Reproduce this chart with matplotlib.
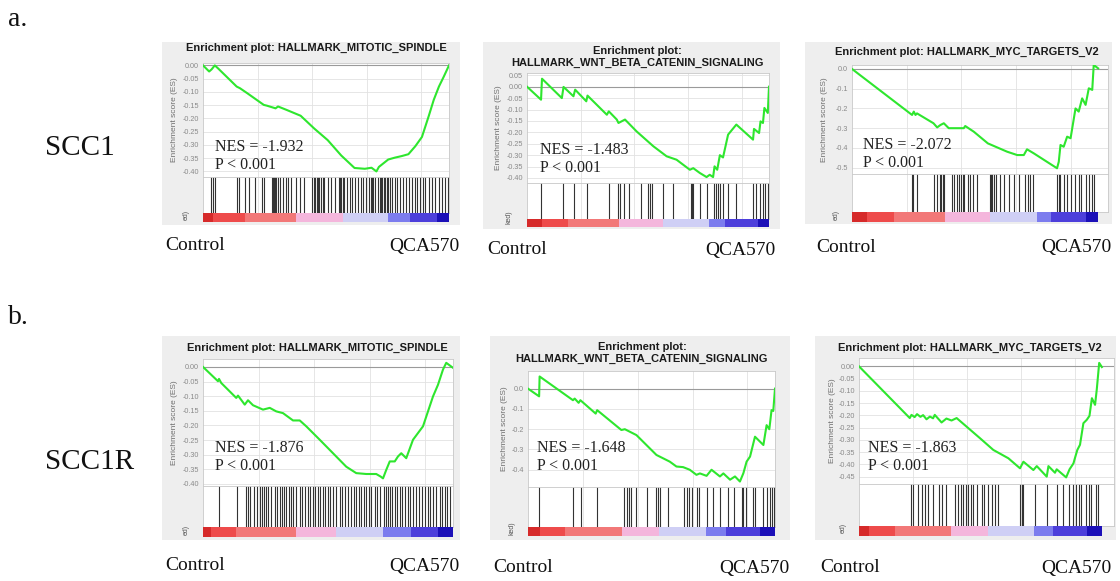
import matplotlib
matplotlib.use('Agg')
import matplotlib.pyplot as plt
from matplotlib.patches import Rectangle

W, H = 1120, 581

# rank position in percent of ranked list, running enrichment score
es1_x = [0, 2.5, 3.5, 4.8, 6.2, 13.7, 15, 18, 24.7, 26, 29.5, 30.5, 34, 39.7, 45.2, 50.7, 56.2,
         61.6, 65.8, 68.5, 70.5, 71.5, 75.3, 78, 80.8, 83.5, 86.3, 89, 91.8, 93.8, 95.9, 97.9, 100]
es1_y = [0, -0.023, -0.015, 0.0, -0.012, -0.08, -0.086, -0.105, -0.149, -0.152, -0.162, -0.155,
         -0.168, -0.19, -0.238, -0.282, -0.34, -0.387, -0.39, -0.386, -0.40, -0.383, -0.355, -0.348,
         -0.342, -0.335, -0.305, -0.27, -0.19, -0.13, -0.08, -0.042, 0.0]
hits1 = [3.4, 4.1, 4.8, 14.0, 14.8, 17.1, 18.5, 21.2, 24.0, 24.7, 28.1, 28.5, 28.9, 29.3, 29.7,
         30.4, 31.5, 32.6, 33.6, 34.7, 35.9, 37.7, 39.5, 41.1, 44.5, 45.1, 45.6, 46.2, 46.7, 47.3,
         47.9, 48.8, 49.3, 50.7, 52.1, 53.7, 55.1, 55.6, 56.2, 56.8, 57.5, 58.4, 59.6, 60.5, 61.6,
         63.0, 64.1, 65.2, 66.3, 67.4, 68.2, 68.8, 69.3, 69.9, 71.2, 71.8, 72.3, 72.9, 73.4, 74.0,
         74.7, 75.3, 76.2, 77.0, 78.1, 78.9, 80.0, 81.1, 82.5, 83.8, 84.9, 86.0, 87.1, 88.2, 89.3,
         90.4, 91.8, 93.2, 94.5, 95.9, 97.3, 98.4, 99.5]

es2_x = [0, 5.8, 6.2, 14.4, 15.1, 19.2, 19.9, 24.5, 25.0, 33.0, 33.8, 37.1, 37.8, 40.5, 45.3, 52.2,
         57.7, 61.8, 67.3, 68.7, 71.4, 74.2, 75.5, 76.9, 77.5, 78.6, 79.7, 81.0, 83.1, 86.5, 93.4,
         93.8, 95.9, 96.5, 97.5, 98.1, 99.5, 100]
es2_y = [0, -0.057, 0.035, -0.05, -0.001, -0.042, -0.013, -0.064, -0.039, -0.123, -0.108, -0.144,
         -0.159, -0.144, -0.196, -0.261, -0.305, -0.32, -0.364, -0.357, -0.378, -0.396, -0.386,
         -0.396, -0.349, -0.364, -0.30, -0.31, -0.21, -0.166, -0.232, -0.185, -0.203, -0.152,
         -0.159, -0.093, -0.115, 0.0]
hits2 = [5.9, 14.7, 19.5, 24.7, 33.7, 37.4, 38.5, 40.1, 42.2, 47.0, 50.1, 50.8, 51.6, 56.0, 60.2,
         67.6, 68.1, 68.7, 71.4, 74.5, 77.3, 78.3, 78.8, 79.7, 80.8, 83.1, 86.5, 93.4, 94.5, 96.2,
         97.5, 98.4, 99.7]

es3_x = [0, 24.4, 25.1, 25.8, 26.4, 33.1, 34.6, 35.9, 37.3, 39.3, 45.4, 46.0, 49.5, 55.2, 63.0,
         67.1, 69.8, 71.1, 73.8, 83.3, 84.0, 84.7, 86.0, 87.4, 88.8, 90.8, 92.1, 93.5, 94.9, 96.2,
         97.6, 98.2, 100]
es3_y = [0, -0.233, -0.216, -0.233, -0.225, -0.275, -0.296, -0.284, -0.275, -0.30, -0.30, -0.289,
         -0.318, -0.377, -0.419, -0.436, -0.436, -0.407, -0.427, -0.503, -0.47, -0.385, -0.394,
         -0.343, -0.351, -0.20, -0.216, -0.149, -0.182, -0.098, -0.106, 0.02, 0.003]
hits3 = [24.3, 24.8, 26.4, 33.2, 34.6, 35.6, 36.3, 37.0, 37.5, 40.7, 41.6, 42.7, 43.6, 44.4, 45.1,
         45.7, 47.2, 48.1, 49.1, 50.8, 56.2, 56.6, 57.0, 57.6, 58.3, 60.3, 61.9, 63.7, 65.7, 67.8,
         70.1, 71.5, 72.5, 73.4, 83.3, 84.0, 84.7, 86.0, 87.4, 89.0, 90.4, 92.1, 93.2, 94.9, 96.3,
         97.6, 98.2]

es4_x = [0, 6.0, 6.4, 7.3, 13.3, 14.0, 16.7, 18.0, 20.0, 24.0, 26.7, 29.3, 32.0, 36.0, 38.7, 41.3,
         46.7, 52.0, 57.3, 61.3, 65.3, 69.3, 71.1, 72.0, 73.3, 74.7, 76.7, 78.0, 79.3, 81.3, 84.0,
         86.0, 88.0, 90.0, 92.0, 94.0, 96.0, 97.3, 98.7, 100]
es4_y = [0, -0.049, -0.041, -0.055, -0.106, -0.098, -0.129, -0.114, -0.131, -0.146, -0.14, -0.152,
         -0.158, -0.183, -0.183, -0.203, -0.249, -0.295, -0.341, -0.363, -0.366, -0.366, -0.375,
         -0.381, -0.352, -0.323, -0.323, -0.306, -0.295, -0.312, -0.249, -0.226, -0.203, -0.152,
         -0.101, -0.061, -0.009, 0.014, 0.005, -0.003]
hits4 = [6.3, 13.6, 17.1, 18.0, 18.9, 20.3, 21.6, 22.7, 23.7, 24.3, 25.1, 26.0, 27.1, 28.7, 29.6,
         30.7, 31.6, 32.5, 33.3, 34.4, 35.3, 36.0, 37.3, 38.7, 39.7, 40.8, 42.0, 42.9, 44.0, 44.8,
         46.0, 46.9, 48.0, 48.9, 50.0, 50.9, 52.0, 53.3, 54.7, 55.7, 56.8, 58.0, 59.3, 60.3, 61.3,
         62.4, 63.3, 64.3, 65.3, 66.4, 67.3, 68.7, 69.6, 70.7, 72.3, 73.1, 73.9, 74.7, 75.6, 76.7,
         77.6, 78.7, 79.7, 80.8, 82.0, 82.9, 84.0, 85.3, 86.4, 87.5, 88.7, 90.0, 90.9, 92.0, 93.3,
         94.7, 95.7, 96.7, 97.6, 98.7]

es5_x = [0, 4.5, 4.7, 18.2, 18.9, 20.5, 21.2, 27.4, 28.0, 37.8, 39.2, 43.9, 52.0, 57.4, 60.1, 62.8,
         65.5, 68.2, 69.6, 72.3, 74.3, 77.7, 79.1, 81.8, 83.8, 85.8, 87.2, 88.5, 89.9, 91.9, 95.3,
         96.6, 97.7, 98.6, 99.3, 100]
es5_y = [0, -0.038, 0.06, -0.057, -0.049, -0.07, -0.057, -0.123, -0.106, -0.204, -0.200, -0.229,
         -0.327, -0.36, -0.384, -0.387, -0.40, -0.425, -0.418, -0.43, -0.40, -0.433, -0.418, -0.449,
         -0.433, -0.458, -0.417, -0.36, -0.335, -0.237, -0.278, -0.18, -0.20, -0.106, -0.11, 0.0]
hits5 = [4.5, 18.2, 21.6, 28.0, 38.8, 39.9, 40.9, 41.9, 43.9, 48.0, 52.0, 52.7, 53.4, 56.5, 63.2,
         64.2, 65.3, 66.2, 68.5, 69.3, 72.3, 75.0, 77.9, 81.1, 83.4, 86.5, 87.2, 88.2, 91.0, 92.0,
         95.3, 96.9, 97.9, 98.8, 99.6]

es6_x = [0, 20.9, 21.6, 22.9, 23.9, 25.3, 26.4, 27.8, 29.2, 30.5, 31.2, 34.0, 36.0, 38.1, 40.2, 44.3,
         49.8, 55.3, 61.5, 66.3, 67.7, 71.8, 73.2, 77.3, 78.0, 80.7, 81.4, 85.3, 86.7, 88.3, 89.1,
         89.9, 91.0, 92.4, 93.8, 94.9, 95.9, 97.2, 97.9, 98.9, 100]
es6_y = [0, -0.211, -0.198, -0.207, -0.195, -0.206, -0.199, -0.216, -0.205, -0.212, -0.198, -0.229,
         -0.213, -0.221, -0.211, -0.246, -0.293, -0.341, -0.375, -0.416, -0.389, -0.423, -0.407,
         -0.45, -0.407, -0.434, -0.42, -0.453, -0.42, -0.396, -0.368, -0.341, -0.32, -0.232, -0.218,
         -0.202, -0.13, -0.157, -0.095, 0.014, -0.003]
hits6 = [21.3, 22.3, 24.3, 26.0, 27.1, 28.5, 30.5, 33.0, 34.0, 36.0, 39.5, 40.7, 42.0, 42.9, 43.9,
         45.0, 46.1, 47.0, 48.4, 50.5, 51.6, 53.2, 54.6, 56.0, 57.4, 66.3, 67.0, 67.7, 72.5, 77.6,
         81.4, 84.2, 86.4, 88.2, 89.4, 90.4, 91.5, 93.4, 94.5, 95.5, 97.7, 98.5]

# ranked list metric colour blocks (red = Control side, blue = QCA570 side)
bar_colors = ['#d62a2a', '#ee4b4b', '#f27878', '#f4b6dc', '#cfcff5', '#7c7cee', '#4d3fdb', '#1c10b8']
bar1_edges = [0, 4, 17, 38, 57, 75, 84, 95, 100]
bar2_edges = [0, 6, 17, 38, 56, 75, 82, 95.5, 100]
bar3_edges = [0, 6, 17, 38, 56, 75, 81, 95, 100]
bar4_edges = [0, 3, 13, 37, 53, 72, 83, 94, 100]
bar5_edges = [0, 5, 15, 38, 53, 72, 80, 94, 100]
bar6_edges = [0, 4, 15, 38, 53, 72, 80, 94, 100]

titles = ['Enrichment plot: HALLMARK_MITOTIC_SPINDLE',
          'Enrichment plot:\nHALLMARK_WNT_BETA_CATENIN_SIGNALING',
          'Enrichment plot: HALLMARK_MYC_TARGETS_V2',
          'Enrichment plot: HALLMARK_MITOTIC_SPINDLE',
          'Enrichment plot:\nHALLMARK_WNT_BETA_CATENIN_SIGNALING',
          'Enrichment plot: HALLMARK_MYC_TARGETS_V2']
nes_vals = ['-1.932', '-1.483', '-2.072', '-1.876', '-1.648', '-1.863']
yticks = [[0, -0.05, -0.10, -0.15, -0.20, -0.25, -0.30, -0.35, -0.40],
          [0.05, 0, -0.05, -0.10, -0.15, -0.20, -0.25, -0.30, -0.35, -0.40],
          [0, -0.1, -0.2, -0.3, -0.4, -0.5],
          [0, -0.05, -0.10, -0.15, -0.20, -0.25, -0.30, -0.35, -0.40],
          [0, -0.1, -0.2, -0.3, -0.4],
          [0, -0.05, -0.10, -0.15, -0.20, -0.25, -0.30, -0.35, -0.40, -0.45]]
ylims = [(-0.421, 0.009), (-0.422, 0.06), (-0.532, 0.02),
         (-0.407, 0.027), (-0.485, 0.087), (-0.48, 0.034)]
yfmt = ['%.2f', '%.2f', '%.1f', '%.2f', '%.1f', '%.2f']
rank_grid = [22.2, 44.4, 66.6, 88.8]

SERIF = 'Liberation Serif'
SANS = 'Liberation Sans'


def box(x0, y0, x1, y1):
    return [x0 / W, 1 - y1 / H, (x1 - x0) / W, (y1 - y0) / H]


def ftext(x, y, s, **kw):
    fig.text(x / W, 1 - y / H, s, **kw)


# pixel layout of each panel: gray frame, es axes, hit axes, bar axes, xmax
layout = [
    dict(bg=(162, 42, 460, 225), es=(203, 63, 449, 177), hit=(203, 177, 449, 213),
         bar=(203, 213, 449, 222), xmax=100, title=(316, 48), nes=(215, 147), ctrl=(165, 246),
         qca=(460, 246), ylab=175, frag=(186, 215, 'ed)')),
    dict(bg=(483, 42, 780, 229), es=(527, 73, 769, 183), hit=(527, 183, 769, 219),
         bar=(527, 219, 769, 227), xmax=100, title=(637, 57), nes=(540, 150), ctrl=(487, 250),
         qca=(775, 250), ylab=498, frag=(509, 217, 'ked)')),
    dict(bg=(805, 42, 1112, 224), es=(852, 65, 1108, 174), hit=(852, 174, 1108, 212),
         bar=(852, 212, 1098, 222), xmax=104, title=(967, 52), nes=(863, 145), ctrl=(816, 248),
         qca=(1112, 248), ylab=825, frag=(836, 215, 'ed)')),
    dict(bg=(162, 336, 460, 540), es=(203, 359, 453, 486), hit=(203, 486, 453, 527),
         bar=(203, 527, 453, 537), xmax=100, title=(317, 348), nes=(215, 448), ctrl=(165, 566),
         qca=(460, 566), ylab=175, frag=(186, 530, 'ed)')),
    dict(bg=(490, 336, 790, 540), es=(528, 371, 775, 487), hit=(528, 487, 775, 527),
         bar=(528, 527, 775, 536), xmax=100, title=(642, 353), nes=(537, 448), ctrl=(493, 568),
         qca=(790, 568), ylab=505, frag=(512, 528, 'ked)')),
    dict(bg=(815, 336, 1116, 540), es=(859, 358, 1114, 484), hit=(859, 484, 1114, 526),
         bar=(859, 526, 1102, 536), xmax=105, title=(970, 348), nes=(868, 448), ctrl=(820, 568),
         qca=(1112, 568), ylab=833, frag=(843, 528, 'ed)')),
]

es_x = [es1_x, es2_x, es3_x, es4_x, es5_x, es6_x]
es_y = [es1_y, es2_y, es3_y, es4_y, es5_y, es6_y]
hits = [hits1, hits2, hits3, hits4, hits5, hits6]
bar_edges = [bar1_edges, bar2_edges, bar3_edges, bar4_edges, bar5_edges, bar6_edges]

fig = plt.figure(figsize=(W / 100, H / 100), dpi=100)
fig.patch.set_facecolor('white')

for i, lo in enumerate(layout):
    x0, y0, x1, y1 = lo['bg']
    fig.add_artist(Rectangle((x0 / W, 1 - y1 / H), (x1 - x0) / W, (y1 - y0) / H,
                             transform=fig.transFigure, facecolor='#eeeeee',
                             edgecolor='none', zorder=-5))

    # running enrichment score
    ax = fig.add_axes(box(*lo['es']))
    ax.set_facecolor('white')
    ax.plot(es_x[i], es_y[i], color='#2ee62e', lw=1.5, zorder=3)
    ax.axhline(0, color='#9a9a9a', lw=0.8, zorder=2)
    ax.set_xlim(0, lo['xmax'])
    ax.set_ylim(*ylims[i])
    ax.set_yticks(yticks[i])
    ax.set_yticklabels([yfmt[i] % v for v in yticks[i]])
    ax.set_xticks(rank_grid)
    ax.set_xticklabels([])
    ax.grid(True, color='#e2e2e2', lw=0.6)
    ax.tick_params(length=0, pad=3, labelsize=5.2, labelcolor='#8a8a8a')
    for lab in ax.get_yticklabels():
        lab.set_fontfamily(SANS)
    for sp in ax.spines.values():
        sp.set_color('#c8c8c8')
        sp.set_linewidth(0.6)

    # hit positions
    axh = fig.add_axes(box(*lo['hit']))
    axh.vlines(hits[i], 0, 1, color='#333333', lw=0.8)
    for g in rank_grid:
        axh.axvline(g, color='#e2e2e2', lw=0.6, zorder=0)
    axh.set_xlim(0, lo['xmax'])
    axh.set_ylim(0, 1)
    axh.set_xticks([])
    axh.set_yticks([])
    for sp in axh.spines.values():
        sp.set_color('#c8c8c8')
        sp.set_linewidth(0.6)

    # ranked list colour bar
    axb = fig.add_axes(box(*lo['bar']))
    e = bar_edges[i]
    axb.barh(0, [e[k + 1] - e[k] for k in range(len(bar_colors))], left=e[:-1],
             height=1, color=bar_colors, edgecolor='none')
    axb.set_xlim(0, 100)
    axb.set_ylim(-0.5, 0.5)
    axb.axis('off')

    # texts
    tx, ty = lo['title']
    ftext(tx, ty, titles[i], ha='center', va='center', fontsize=8, fontweight='bold',
          family=SANS, color='#1a1a1a', linespacing=1.25)
    nx, ny = lo['nes']
    ftext(nx, ny, 'NES = ' + nes_vals[i], ha='left', va='center', fontsize=11.5,
          family=SERIF, color='#222222')
    ftext(nx, ny + 18, 'P < 0.001', ha='left', va='center', fontsize=11.5,
          family=SERIF, color='#222222')
    ey0, ey1 = lo['es'][1], lo['es'][3]
    ftext(lo['ylab'], (ey0 + ey1) / 2, 'Enrichment score (ES)', rotation=90, ha='center',
          va='center', fontsize=6, family=SANS, color='#707070')
    fx, fy, fs = lo['frag']
    ftext(fx, fy, fs, rotation=90, ha='center', va='center', fontsize=5, family=SANS,
          color='#555555')
    cx, cy = lo['ctrl']
    ftext(cx, cy, 'Control', ha='left', va='center', fontsize=14, family=SERIF, color='#111111')
    qx, qy = lo['qca']
    ftext(qx, qy, 'QCA570', ha='right', va='center', fontsize=14, family=SERIF, color='#111111')

ftext(8, 20, 'a.', ha='left', va='center', fontsize=20, family=SERIF, color='#111111')
ftext(8, 318, 'b.', ha='left', va='center', fontsize=20, family=SERIF, color='#111111')
ftext(45, 148, 'SCC1', ha='left', va='center', fontsize=21, family=SERIF, color='#111111')
ftext(45, 462, 'SCC1R', ha='left', va='center', fontsize=21, family=SERIF, color='#111111')

fig.savefig('out.png', dpi=100, facecolor='white')
